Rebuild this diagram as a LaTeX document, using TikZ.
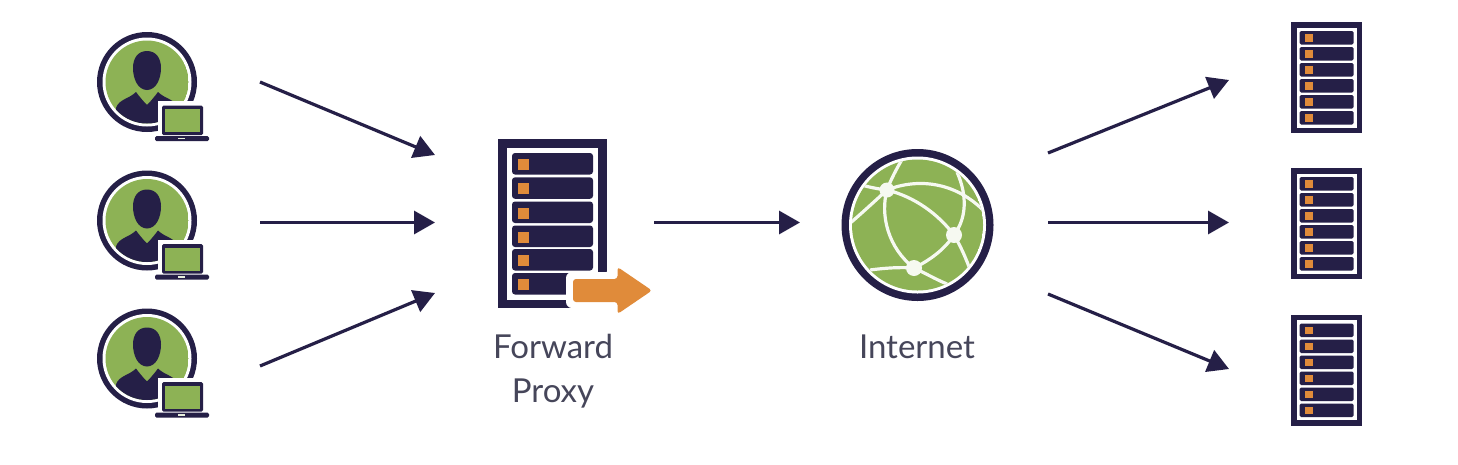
\documentclass[tikz,border=0pt]{standalone}
\usepackage{fontspec}
\setmainfont{Lato}
\usetikzlibrary{arrows.meta}
\definecolor{navy}{HTML}{251F47}
\definecolor{leaf}{HTML}{8DB255}
\definecolor{amber}{HTML}{E08B3A}
\definecolor{labelc}{HTML}{46465A}
\tikzset{
  conn/.style={draw=navy,line width=3.2pt,-{Triangle[length=21pt,width=23pt]}},
  lbl/.style={text=labelc,font=\fontsize{33}{33}\selectfont,inner sep=0pt,anchor=base},
  wire/.style={draw=white!92!leaf,line width=3.2pt},
  hub/.style={fill=white!92!leaf,draw=none},
  pics/user/.style={code={
    \fill[navy] (0,0) circle (50);
    \fill[white] (0,0) circle (44.5);
    \begin{scope}
      \clip (0,0) circle (41.5);
      \fill[leaf] (0,0) circle (42);
      \fill[navy] (0,-31) .. controls (9,-31) and (14,-24) .. (14,-14)
        .. controls (14,-3) and (9,8) .. (0,8)
        .. controls (-9,8) and (-14,-3) .. (-14,-14)
        .. controls (-14,-24) and (-9,-31) .. (0,-31) -- cycle;
      \fill[navy] (-31,45) -- (-31,26) .. controls (-28,17) and (-18,17) .. (-11,10)
        .. controls (-8,14) and (-4,19) .. (0,23) .. controls (4,19) and (8,14) .. (11,10)
        .. controls (18,17) and (28,17) .. (31,26) -- (31,45) -- cycle;
    \end{scope}
    \fill[white] (11,19) rectangle (61,61);
    \fill[navy,rounded corners=1.5pt] (15,23.5) rectangle (56,53);
    \fill[leaf] (18,27) rectangle (53,50);
    \fill[navy,rounded corners=1.5pt] (8,54) rectangle (62,59);
    \fill[white!80!leaf] (31,55.8) rectangle (38,57.2);
  }},
  pics/rack/.style={code={
    \fill[navy] (-35.5,-55.5) rectangle (35.5,55.5);
    \fill[white] (-30,-50) rectangle (30,50);
    \foreach \i in {0,...,5}{
      \fill[navy,rounded corners=1.5pt] (-27,-46.5+16*\i) rectangle (27,-33+16*\i);
      \fill[amber] (-22,-43.5+16*\i) rectangle (-14,-36+16*\i);
    }
  }}
}
\begin{document}
\begin{tikzpicture}[x=1pt,y=-1pt]
\useasboundingbox[fill=white] (0,0) rectangle (1458,464);

% clients
\pic at (147,82) {user};
\pic at (147,220.5) {user};
\pic at (147,358.5) {user};

% proxy
\fill[navy] (498,139) rectangle (607,308);
\fill[white] (507,148) rectangle (598,300);
\foreach \y in {153,177.3,201.5,225.5,249,273}{
  \fill[navy,rounded corners=3pt] (512,\y) rectangle (593,\y+21.5);
  \fill[amber] (518,\y+6) rectangle (529,\y+17);
}
\fill[white,rounded corners=6pt] (566,272) -- (612,272) -- (612,262) -- (658,290) -- (612,320) -- (612,308) -- (566,308) -- cycle;
\fill[amber,rounded corners=3pt] (573,279) -- (617.5,279) -- (617.5,267) -- (652,290.5) -- (617.5,314) -- (617.5,302) -- (573,302) -- cycle;
\node[lbl] (proxyA) at (553,358) {Forward};
\node[lbl] (proxyB) at (553,402.5) {Proxy};

% globe
\fill[navy] (917.5,225) circle (76);
\fill[white] (917.5,225) circle (68.5);
\begin{scope}
  \clip (917.5,225) circle (65.5);
  \fill[leaf] (917.5,225) circle (66);
  \coordinate (gA) at (887,190);
  \coordinate (gB) at (954,235);
  \coordinate (gC) at (914,268);
  \draw[wire] (904,156) .. controls (897,168) and (891,179) .. (gA);
  \draw[wire] (gA) .. controls (880,215) and (888,248) .. (gC);
  \draw[wire] (848,225) .. controls (862,213) and (876,200) .. (gA);
  \draw[wire] (858,184) .. controls (868,187) and (878,189) .. (gA);
  \draw[wire] (gA) .. controls (917,178) and (955,181) .. (985,212);
  \draw[wire] (gA) .. controls (915,197) and (938,214) .. (gB);
  \draw[wire] (957,172) .. controls (968,197) and (966,219) .. (gB);
  \draw[wire] (gB) .. controls (944,250) and (930,260) .. (gC);
  \draw[wire] (gB) .. controls (961,247) and (966,258) .. (972,275);
  \draw[wire] (870,270) .. controls (885,268) and (900,267) .. (gC);
  \draw[wire] (gC) .. controls (925,273) and (935,279) .. (947,284);
  \fill[hub] (gA) circle (7.5);
  \fill[hub] (gB) circle (8);
  \fill[hub] (gC) circle (8);
\end{scope}
\node[lbl] (net) at (917,358) {Internet};

% origin servers
\pic at (1326.5,77.5) {rack};
\pic at (1326.5,223.5) {rack};
\pic at (1326.5,370) {rack};

% connector ends
\coordinate (c1) at (260,82);   \coordinate (p1) at (435,155);
\coordinate (c2) at (260,222.5);  \coordinate (p2) at (435,222.5);
\coordinate (c3) at (260,366);  \coordinate (p3) at (435,293);
\coordinate (p0) at (654,222.5);  \coordinate (n0) at (800,222.5);
\coordinate (n1) at (1048,153); \coordinate (s1) at (1229,80);
\coordinate (n2) at (1048,222.5); \coordinate (s2) at (1229,222.5);
\coordinate (n3) at (1048,294); \coordinate (s3) at (1229,369);
\draw[conn] (c1) -- (p1);
\draw[conn] (c2) -- (p2);
\draw[conn] (c3) -- (p3);
\draw[conn] (p0) -- (n0);
\draw[conn] (n1) -- (s1);
\draw[conn] (n2) -- (s2);
\draw[conn] (n3) -- (s3);
\end{tikzpicture}
\end{document}
